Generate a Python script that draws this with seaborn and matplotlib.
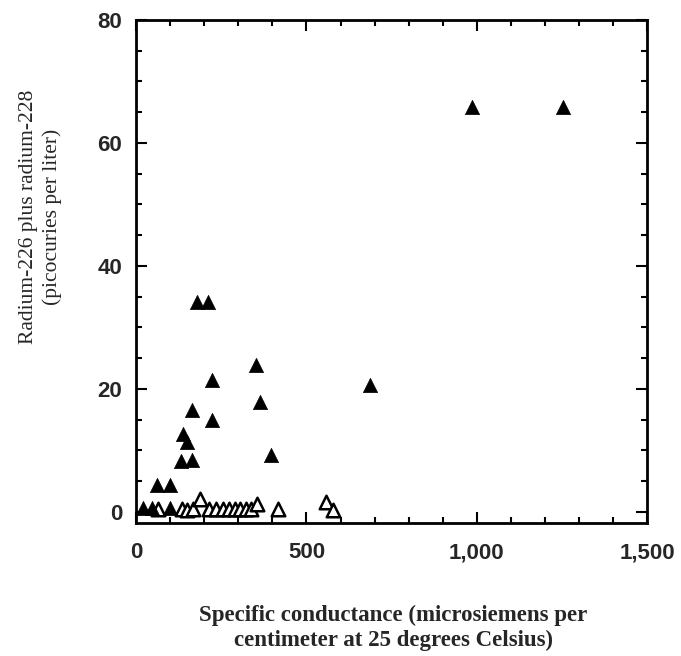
import matplotlib
matplotlib.use("Agg")
import matplotlib.pyplot as plt
from matplotlib.ticker import MultipleLocator, FuncFormatter
import seaborn as sns

# --------------------
# Data
# --------------------

# filled triangles: detectable radium
filled_x = [987, 1252, 180, 212, 351, 224, 364, 163, 224, 138, 150,
            131, 163, 395, 686, 62, 99, 20, 45, 100]
filled_y = [65.9, 65.9, 34.2, 34.2, 23.8, 21.4, 17.9, 16.5, 15.0, 12.6, 11.4,
            8.3, 8.4, 9.2, 20.7, 4.4, 4.4, 0.6, 0.6, 0.6]

# open triangles: low / non-detect values
open_x = [65, 135, 150, 168, 186, 215, 235, 255, 272, 290, 305, 322,
          338, 355, 415, 556, 579]
open_y = [0.5, 0.5, 0.3, 0.5, 2.0, 0.5, 0.5, 0.5, 0.5, 0.5, 0.5, 0.5,
          0.5, 1.3, 0.5, 1.6, 0.3]

x_ticks = [0, 500, 1000, 1500]
y_ticks = [0, 20, 40, 60, 80]

xlabel = "Specific conductance (microsiemens per\ncentimeter at 25 degrees Celsius)"
ylabel = "Radium-226 plus radium-228\n(picocuries per liter)"

# --------------------
# Plot
# --------------------

sns.set_style("ticks")
plt.rcParams["font.family"] = ["Liberation Sans", "DejaVu Sans"]

fig = plt.figure(figsize=(6.81, 6.56), dpi=100)
ax = fig.add_axes([0.2, 0.203, 0.75, 0.7665])

sns.scatterplot(x=open_x, y=open_y, ax=ax, marker="^", s=95,
                facecolor="white", edgecolor="black", linewidth=1.8, zorder=3)
sns.scatterplot(x=filled_x, y=filled_y, ax=ax, marker="^", s=105,
                color="black", edgecolor="black", linewidth=0.5, zorder=4)

ax.set_xlim(0, 1500)
ax.set_ylim(-1.8, 80)
ax.set_xticks(x_ticks)
ax.set_yticks(y_ticks)
ax.xaxis.set_minor_locator(MultipleLocator(100))
ax.yaxis.set_minor_locator(MultipleLocator(5))
ax.xaxis.set_major_formatter(FuncFormatter(lambda v, p: f"{int(v):,}"))

ax.tick_params(which="both", direction="in", top=True, right=True,
               width=1.5, color="black")
ax.tick_params(which="major", length=8)
ax.tick_params(which="minor", length=4)
ax.tick_params(axis="x", which="major", pad=14, labelsize=16)
ax.tick_params(axis="y", which="major", pad=10, labelsize=16)
for lab in ax.get_xticklabels() + ax.get_yticklabels():
    lab.set_fontweight("bold")

for side in ["left", "right", "top", "bottom"]:
    ax.spines[side].set_linewidth(2)
    ax.spines[side].set_color("black")

fig.text(0.578, 0.043, xlabel, ha="center", va="center", fontsize=16.5,
         fontweight="bold", family=["Liberation Serif", "DejaVu Serif"],
         linespacing=1.25)
fig.text(0.06, 0.67, ylabel, ha="center", va="center", rotation=90,
         fontsize=15.5, family=["Liberation Serif", "DejaVu Serif"],
         linespacing=1.3)

plt.savefig("out.png", dpi=100)
